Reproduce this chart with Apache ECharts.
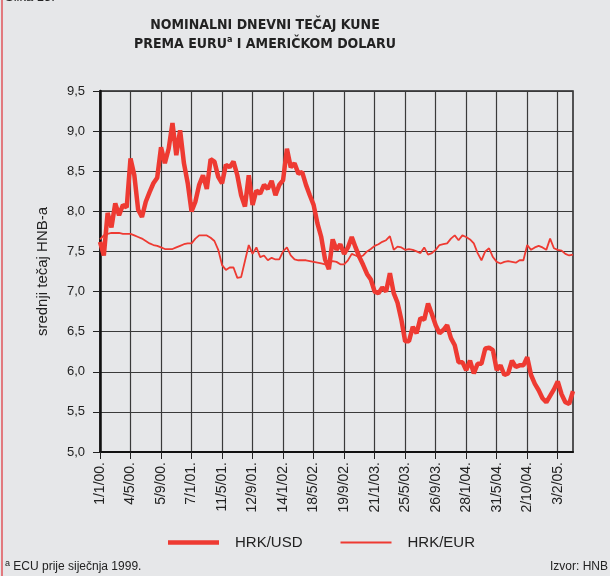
<!DOCTYPE html>
<html>
<head>
    <meta charset="utf-8">
    <title>Tečaj kune</title>
    <script src="https://cdn.jsdelivr.net/npm/echarts@6/dist/echarts.min.js"></script>
    <style>
        html, body { margin: 0; padding: 0; background: #e6e7e9; }
    </style>
</head>
<body>
    <div id="main" style="width:610px;height:576px;"></div>
    <script type="text/javascript">
        // oznake na osi x (svaka 8. točka)
        var tickLabels = ['1/1/00.', '4/5/00.', '5/9/00.', '7/1/01.', '11/5/01.', '12/9/01.', '14/1/02.', '18/5/02.',
            '19/9/02.', '21/1/03.', '25/5/03.', '26/9/03.', '28/1/04.', '31/5/04.', '2/10/04.', '3/2/05.'];

        // HRK/USD
        var usd = [
            7.62, 7.45, 7.98, 7.80, 8.10, 7.95, 8.08, 8.05,
            8.66, 8.45, 8.02, 7.93, 8.12, 8.24, 8.35, 8.42,
            8.80, 8.60, 8.78, 9.10, 8.70, 9.01, 8.60, 8.35,
            8.00, 8.12, 8.33, 8.45, 8.28, 8.65, 8.62, 8.43,
            8.35, 8.58, 8.55, 8.62, 8.45, 8.20, 8.06, 8.45,
            8.08, 8.26, 8.22, 8.33, 8.28, 8.38, 8.20, 8.33,
            8.39, 8.78, 8.55, 8.60, 8.47, 8.49, 8.33, 8.20,
            8.08, 7.85, 7.68, 7.40, 7.28, 7.65, 7.52, 7.59,
            7.47, 7.55, 7.68, 7.55, 7.43, 7.33, 7.22, 7.15,
            7.00, 6.98, 7.05, 7.00, 7.23, 6.98, 6.86, 6.65,
            6.38, 6.38, 6.56, 6.48, 6.67, 6.65, 6.85, 6.72,
            6.58, 6.48, 6.52, 6.58, 6.42, 6.33, 6.12, 6.12,
            6.02, 6.14, 5.98, 6.10, 6.10, 6.29, 6.30, 6.27,
            6.02, 6.08, 5.96, 5.98, 6.14, 6.06, 6.08, 6.08,
            6.18, 5.96, 5.85, 5.77, 5.67, 5.62, 5.70, 5.78,
            5.88, 5.72, 5.62, 5.60, 5.76
        ];

        // HRK/EUR
        var eur = [
            7.65, 7.70, 7.72, 7.73, 7.73, 7.73, 7.72, 7.72,
            7.72, 7.70, 7.68, 7.66, 7.63, 7.60, 7.58, 7.57,
            7.55, 7.53, 7.53, 7.53, 7.55, 7.57, 7.59, 7.60,
            7.60, 7.66, 7.70, 7.70, 7.70, 7.67, 7.63, 7.52,
            7.33, 7.27, 7.30, 7.30, 7.17, 7.18, 7.38, 7.58,
            7.47, 7.55, 7.43, 7.45, 7.39, 7.42, 7.40, 7.40,
            7.50, 7.55, 7.45, 7.40, 7.39, 7.39, 7.39, 7.38,
            7.37, 7.36, 7.35, 7.34, 7.36, 7.38, 7.37, 7.34,
            7.34, 7.39, 7.47, 7.45, 7.43, 7.45, 7.50, 7.53,
            7.57, 7.59, 7.62, 7.64, 7.69, 7.52, 7.56, 7.55,
            7.52, 7.53, 7.52, 7.50, 7.48, 7.55, 7.46, 7.48,
            7.52, 7.58, 7.59, 7.60, 7.66, 7.70, 7.64, 7.70,
            7.68, 7.65, 7.60, 7.48, 7.39, 7.50, 7.54, 7.43,
            7.37, 7.35, 7.37, 7.38, 7.37, 7.36, 7.39, 7.39,
            7.58, 7.52, 7.55, 7.57, 7.55, 7.52, 7.66, 7.54,
            7.52, 7.51, 7.47, 7.45, 7.46
        ];

        var categories = usd.map(function (v, i) {
            return i % 8 === 0 ? tickLabels[i / 8] : 't' + i;
        });

        var red = '#ee3a32';
        var gridColor = '#3a3a3a';
        var font = '"Liberation Sans", Arial, sans-serif';
        var narrow = '"Liberation Sans Narrow", "DejaVu Sans Condensed", "Liberation Sans", sans-serif';

        var myChart = echarts.init(document.getElementById('main'));

        var option = {
            backgroundColor: '#e6e7e9',
            animation: false,
            grid: {
                left: 100, right: 37, top: 91, bottom: 124,
                show: true, borderColor: '#222', borderWidth: 1.5
            },
            legend: {
                data: [
                    { name: 'HRK/USD', icon: 'path://M0,0H51V4.5H0Z' },
                    { name: 'HRK/EUR', icon: 'path://M0,0H51V1.8H0Z' }
                ],
                left: 168, top: 535,
                padding: 0,
                itemWidth: 51, itemHeight: 14, itemGap: 38,
                symbolKeepAspect: true,
                textStyle: { fontFamily: font, fontSize: 15, color: '#222', padding: [0, 0, 0, 11] }
            },
            xAxis: {
                type: 'category',
                data: categories,
                boundaryGap: false,
                axisLine: { lineStyle: { color: '#111', width: 2 } },
                axisTick: { interval: 7, length: 7, lineStyle: { color: '#222' } },
                axisLabel: {
                    interval: 7, rotate: 90, margin: 10,
                    fontFamily: font, fontSize: 14, color: '#222'
                },
                splitLine: { show: true, interval: 7, lineStyle: { color: gridColor, width: 1.2 } }
            },
            yAxis: {
                type: 'value',
                min: 5, max: 9.5, interval: 0.5,
                name: 'srednji tečaj HNB-a',
                nameLocation: 'middle',
                nameGap: 50,
                nameTextStyle: { fontFamily: font, fontSize: 15, color: '#222' },
                axisLine: { show: true, lineStyle: { color: '#111', width: 2.5 } },
                axisTick: { show: true, length: 7, lineStyle: { color: '#222' } },
                axisLabel: {
                    margin: 15, fontFamily: font, fontSize: 13, color: '#222',
                    formatter: function (v) { return v.toFixed(1).replace('.', ','); }
                },
                splitLine: { lineStyle: { color: gridColor, width: 1.2 } }
            },
            series: [
                {
                    name: 'HRK/EUR', type: 'line', data: eur,
                    symbol: 'none', color: red,
                    lineStyle: { color: red, width: 1.8 }
                },
                {
                    name: 'HRK/USD', type: 'line', data: usd,
                    symbol: 'none', color: red,
                    lineStyle: { color: red, width: 4.5 }
                }
            ],
            graphic: [
                {
                    type: 'line', silent: true,
                    shape: { x1: 2, y1: 0, x2: 2, y2: 576 },
                    style: { stroke: '#e0555a', lineWidth: 1.5 }
                },
                {
                    type: 'text', x: 5, y: -9,
                    style: { text: 'Slika 15.', font: '13px ' + font, fill: '#222' }
                },
                {
                    type: 'text', x: 265, y: 16,
                    style: {
                        text: 'NOMINALNI DNEVNI TEČAJ KUNE\nPREMA EURU{sup|a} I AMERIČKOM DOLARU',
                        align: 'center',
                        font: 'bold 14px ' + narrow,
                        lineHeight: 19,
                        fill: '#222',
                        rich: {
                            sup: { font: 'bold 9px ' + narrow, fill: '#222', verticalAlign: 'top', lineHeight: 19, padding: [0, 0, 7, 0] }
                        }
                    }
                },
                {
                    type: 'text', x: 5, y: 559,
                    style: {
                        text: '{sup|a} ECU prije siječnja 1999.',
                        font: '12px ' + font, fill: '#222',
                        rich: { sup: { font: '9px ' + font, fill: '#222', padding: [0, 0, 6, 0] } }
                    }
                },
                {
                    type: 'text', x: 608, y: 561,
                    style: { text: 'Izvor: HNB', align: 'right', font: '12px ' + font, fill: '#222' }
                }
            ]
        };

        myChart.setOption(option);
    </script>
</body>
</html>
